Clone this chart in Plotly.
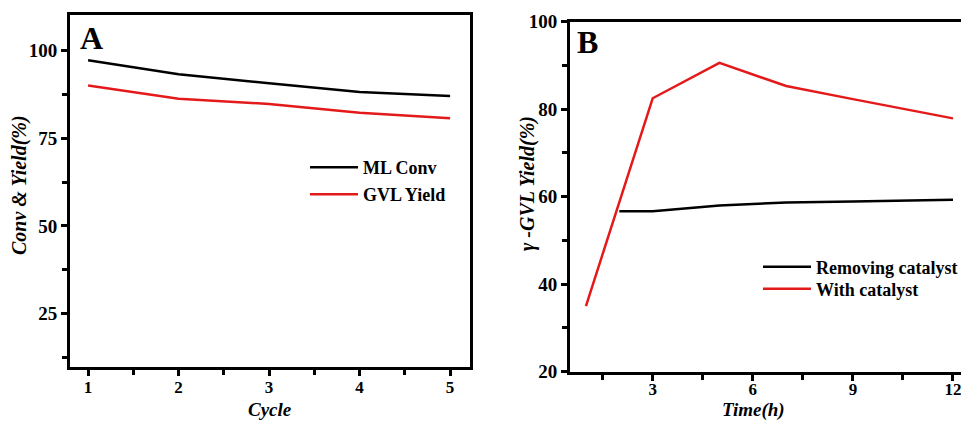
import plotly.graph_objects as go

# Panel A data
cycles = [1, 2, 3, 4, 5]
ml_conv = [97.3, 93.3, 90.7, 88.2, 87.1]
gvl_yield = [90.1, 86.3, 84.8, 82.3, 80.7]

# Panel B data
time_removing = [2, 3, 5, 7, 9, 12]
removing_catalyst = [56.7, 56.7, 58.0, 58.7, 58.9, 59.3]
time_with = [1, 3, 5, 7, 9, 12]
with_catalyst = [35.0, 82.5, 90.6, 85.3, 82.3, 77.9]

W, H = 961, 422
FONT = "Liberation Serif"
RED = "#e41a1a"

fig = go.Figure()
fig.add_trace(go.Scatter(x=cycles, y=ml_conv, mode="lines", name="<b>ML Conv</b>",
                         line=dict(color="black", width=2.5), xaxis="x", yaxis="y",
                         legend="legend"))
fig.add_trace(go.Scatter(x=cycles, y=gvl_yield, mode="lines", name="<b>GVL Yield</b>",
                         line=dict(color=RED, width=2.5), xaxis="x", yaxis="y",
                         legend="legend2"))
fig.add_trace(go.Scatter(x=time_removing, y=removing_catalyst, mode="lines", name="<b>Removing catalyst</b>",
                         line=dict(color="black", width=2.5), xaxis="x2", yaxis="y2",
                         legend="legend3"))
fig.add_trace(go.Scatter(x=time_with, y=with_catalyst, mode="lines", name="<b>With catalyst</b>",
                         line=dict(color=RED, width=2.5), xaxis="x2", yaxis="y2",
                         legend="legend4"))

def px_x(p):
    return p / W

def px_y(p):
    return 1 - p / H

tickfont = dict(family=FONT, size=19, color="black", weight="bold")
xtickfont = dict(family=FONT, size=17, color="black", weight="bold")
titlefont = dict(family=FONT, size=19, color="black", weight="bold", style="italic")
common = dict(showline=True, linewidth=3, linecolor="black", ticks="outside",
              ticklen=6, tickwidth=2.5, tickcolor="black", showgrid=False,
              zeroline=False, automargin=False)
minor_style = dict(ticks="outside", ticklen=5, tickwidth=2.5, tickcolor="black")

def legend_at(x, y):
    return dict(x=px_x(x), y=px_y(y), xanchor="left", yanchor="top",
                bgcolor="rgba(0,0,0,0)", itemwidth=48,
                font=dict(family=FONT, size=18, color="black"))

def title_ann(text, x, y, angle=0, size=19):
    return dict(text=text, x=px_x(x), y=px_y(y), xref="paper", yref="paper",
                xanchor="center", yanchor="middle", showarrow=False,
                textangle=angle, font=dict(titlefont, size=size))

fig.update_layout(
    width=W, height=H, margin=dict(l=0, r=0, t=0, b=0, autoexpand=False),
    paper_bgcolor="white", plot_bgcolor="white",
    xaxis=dict(domain=[px_x(70), px_x(470)], range=[0.80, 5.22], dtick=1, tick0=0,
               mirror=True, anchor="y", tickfont=xtickfont, ticklabelstandoff=-3,
               minor=dict(dtick=0.5, tick0=0, **minor_style), **common),
    yaxis=dict(domain=[px_y(367), px_y(15)], range=[9.7, 110.2], dtick=25, tick0=0,
               mirror=True, anchor="x", tickfont=tickfont,
               minor=dict(dtick=12.5, tick0=0, **minor_style), **common),
    xaxis2=dict(domain=[px_x(570), 1], range=[0.522, 12.24], dtick=3, tick0=0,
                mirror=True, anchor="y2", ticklabeloverflow="allow",
                tickfont=xtickfont, ticklabelstandoff=-6,
                minor=dict(dtick=1.5, tick0=0, **minor_style), **common),
    yaxis2=dict(domain=[px_y(371.7), px_y(21.7)], range=[20, 100], dtick=20, tick0=0,
                mirror=False, anchor="x2", tickfont=tickfont,
                minor=dict(dtick=10, tick0=0, **minor_style), **common),
    legend=legend_at(305, 149),
    legend2=legend_at(305, 176),
    legend3=legend_at(758, 248.5),
    legend4=legend_at(758, 270.5),
    showlegend=True,
    annotations=[
        dict(text="<b>A</b>", x=px_x(78), y=px_y(38), xref="paper", yref="paper",
             xanchor="left", yanchor="middle", showarrow=False,
             font=dict(family=FONT, size=32, color="black")),
        dict(text="<b>B</b>", x=px_x(575), y=px_y(42), xref="paper", yref="paper",
             xanchor="left", yanchor="middle", showarrow=False,
             font=dict(family=FONT, size=32, color="black")),
        title_ann("Cycle", 270, 409.5),
        title_ann("Time(h)", 753, 409.5),
        title_ann("Conv & Yield(%)", 20, 185, -90, 20),
        title_ann("γ -GVL Yield(%)", 527, 184, -90, 20),
    ],
)

fig.write_html("out.html")
